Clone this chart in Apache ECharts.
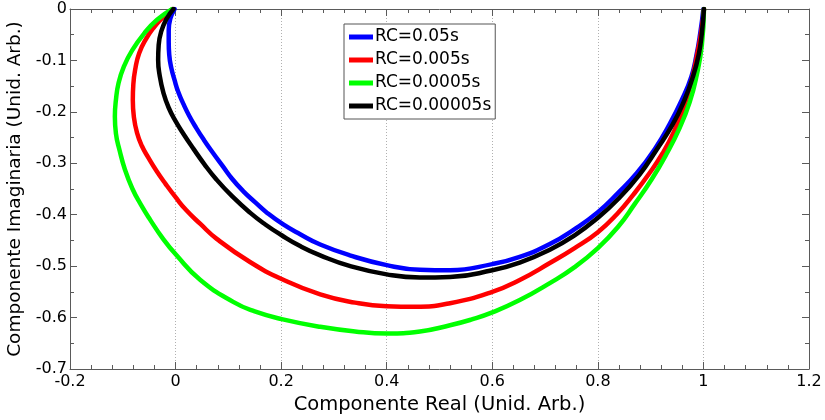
<!DOCTYPE html>
<html>
<head>
<meta charset="utf-8">
<script src="https://cdn.jsdelivr.net/npm/echarts@6/dist/echarts.min.js"></script>
<style>html,body{margin:0;padding:0;background:#fff}#c{width:825px;height:420px}</style>
</head>
<body>
<div id="c"></div>
<script>
var seriesNames = ['RC=0.05s', 'RC=0.005s', 'RC=0.0005s', 'RC=0.00005s'];
var seriesColors = ['#0000ff', '#ff0000', '#00ff00', '#000000'];

var blueRC005 = [[-0.002,0],[-0.010,-0.019],[-0.013,-0.041],[-0.013,-0.064],[-0.012,-0.089],[-0.008,-0.115],[-0.002,-0.138],[0.005,-0.161],[0.015,-0.185],[0.026,-0.208],[0.039,-0.231],[0.054,-0.255],[0.071,-0.280],[0.089,-0.305],[0.107,-0.330],[0.128,-0.354],[0.151,-0.376],[0.173,-0.396],[0.204,-0.419],[0.236,-0.438],[0.274,-0.458],[0.330,-0.479],[0.400,-0.498],[0.463,-0.507],[0.520,-0.508],[0.600,-0.496],[0.652,-0.482],[0.709,-0.457],[0.756,-0.428],[0.800,-0.395],[0.838,-0.358],[0.874,-0.319],[0.908,-0.272],[0.936,-0.224],[0.959,-0.177],[0.977,-0.132],[0.987,-0.089],[0.994,-0.047],[1.000,0]];
var redRC0005 = [[-0.006,0],[-0.025,-0.0175],[-0.042,-0.037],[-0.057,-0.060],[-0.069,-0.086],[-0.076,-0.115],[-0.080,-0.146],[-0.081,-0.177],[-0.079,-0.210],[-0.073,-0.241],[-0.064,-0.266],[-0.051,-0.290],[-0.036,-0.315],[-0.019,-0.340],[0.000,-0.366],[0.020,-0.391],[0.047,-0.418],[0.078,-0.447],[0.141,-0.492],[0.201,-0.525],[0.274,-0.555],[0.340,-0.571],[0.400,-0.578],[0.454,-0.579],[0.520,-0.572],[0.600,-0.550],[0.652,-0.527],[0.709,-0.494],[0.756,-0.465],[0.800,-0.434],[0.836,-0.399],[0.868,-0.360],[0.898,-0.319],[0.923,-0.280],[0.944,-0.239],[0.963,-0.191],[0.978,-0.138],[0.989,-0.084],[0.997,-0.037],[1.001,0]];
var greenRC00005 = [[-0.006,0],[-0.035,-0.021],[-0.059,-0.047],[-0.082,-0.080],[-0.098,-0.112],[-0.108,-0.144],[-0.113,-0.177],[-0.115,-0.209],[-0.113,-0.242],[-0.106,-0.275],[-0.096,-0.312],[-0.082,-0.349],[-0.066,-0.380],[-0.048,-0.410],[-0.025,-0.445],[0.001,-0.478],[0.047,-0.527],[0.110,-0.570],[0.150,-0.588],[0.201,-0.603],[0.274,-0.618],[0.340,-0.627],[0.400,-0.631],[0.463,-0.627],[0.520,-0.615],[0.560,-0.604],[0.600,-0.590],[0.652,-0.566],[0.709,-0.533],[0.756,-0.502],[0.800,-0.465],[0.838,-0.424],[0.870,-0.379],[0.902,-0.331],[0.930,-0.282],[0.955,-0.231],[0.974,-0.181],[0.987,-0.130],[0.997,-0.070],[1.001,0]];
var blackRC000005 = [[-0.004,0],[-0.017,-0.019],[-0.027,-0.043],[-0.032,-0.070],[-0.033,-0.099],[-0.030,-0.130],[-0.023,-0.163],[-0.013,-0.192],[0.000,-0.218],[0.015,-0.243],[0.034,-0.272],[0.054,-0.301],[0.077,-0.331],[0.107,-0.364],[0.141,-0.396],[0.170,-0.419],[0.201,-0.440],[0.236,-0.461],[0.274,-0.479],[0.331,-0.500],[0.400,-0.516],[0.463,-0.522],[0.520,-0.521],[0.600,-0.508],[0.652,-0.493],[0.709,-0.468],[0.756,-0.440],[0.800,-0.406],[0.838,-0.370],[0.879,-0.322],[0.911,-0.274],[0.942,-0.224],[0.964,-0.177],[0.980,-0.132],[0.991,-0.089],[0.997,-0.047],[1.001,0]];
var seriesData = [blueRC005, redRC0005, greenRC00005, blackRC000005];

var xTitle = 'Componente Real (Unid. Arb.)';
var yTitle = 'Componente Imaginaria (Unid. Arb.)';

var axisColor = '#5a5a5a';
var font = 'DejaVu Sans, sans-serif';

function baseAxis(extra) {
  var a = {
    type: 'value',
    axisLine: { show: true, onZero: false, lineStyle: { color: axisColor, width: 1 } },
    axisTick: { show: true, inside: true, length: 7, lineStyle: { color: axisColor } },
    minorTick: { show: true, length: 4, lineStyle: { color: axisColor } },
    axisLabel: { show: false },
    splitLine: { show: false }
  };
  for (var k in extra) a[k] = extra[k];
  return a;
}

var chart = echarts.init(document.getElementById('c'), null, { renderer: 'canvas' });
chart.setOption({
  animation: false,
  backgroundColor: '#ffffff',
  grid: { left: 70, right: 16, top: 9, bottom: 51, containLabel: false, outerBoundsMode: 'none' },
  legend: {
    orient: 'vertical',
    left: 344, top: 24,
    backgroundColor: '#ffffff',
    borderColor: '#555555', borderWidth: 1,
    padding: [4, 4, 4, 5],
    itemGap: 5,
    itemWidth: 24, itemHeight: 5,
    icon: 'rect',
    data: seriesNames,
    textStyle: { fontFamily: font, fontSize: 17, color: '#000', lineHeight: 18, padding: [0,0,0,-3] }
  },
  xAxis: [
    baseAxis({
      position: 'bottom', min: -0.2, max: 1.2, interval: 0.2,
      minorTick: { show: true, splitNumber: 5, length: 4, lineStyle: { color: axisColor } },
      axisLabel: { show: true, color: '#000', fontFamily: font, fontSize: 16, margin: 5 },
      splitLine: { show: true, lineStyle: { color: '#b0b0b0', type: [1, 2], width: 1 } },
      name: xTitle, nameLocation: 'middle', nameGap: 25,
      nameTextStyle: { color: '#000', fontFamily: font, fontSize: 19.5 }
    }),
    baseAxis({
      position: 'top', min: -0.2, max: 1.2, interval: 0.2,
      minorTick: { show: true, splitNumber: 5, length: 4, lineStyle: { color: axisColor } }
    })
  ],
  yAxis: [
    baseAxis({
      position: 'left', min: -0.7, max: 0, interval: 0.1,
      minorTick: { show: true, splitNumber: 2, length: 4, lineStyle: { color: axisColor } },
      axisLabel: { show: true, color: '#000', fontFamily: font, fontSize: 16, margin: 3 },
      name: yTitle, nameLocation: 'middle', nameGap: 42, nameRotate: 90,
      nameTextStyle: { color: '#000', fontFamily: font, fontSize: 18.5 }
    }),
    baseAxis({
      position: 'right', min: -0.7, max: 0, interval: 0.1,
      minorTick: { show: true, splitNumber: 2, length: 4, lineStyle: { color: axisColor } }
    })
  ],
  series: seriesNames.map(function (n, i) {
    return {
      name: n, type: 'line', xAxisIndex: 0, yAxisIndex: 0,
      data: seriesData[i], smooth: 0.5, smoothMonotone: null, showSymbol: false, symbol: 'none',
      lineStyle: { color: seriesColors[i], width: 4.5, join: 'round', cap: 'round' },
      itemStyle: { color: seriesColors[i] },
      z: 3 + i
    };
  })
});
</script>
</body>
</html>
